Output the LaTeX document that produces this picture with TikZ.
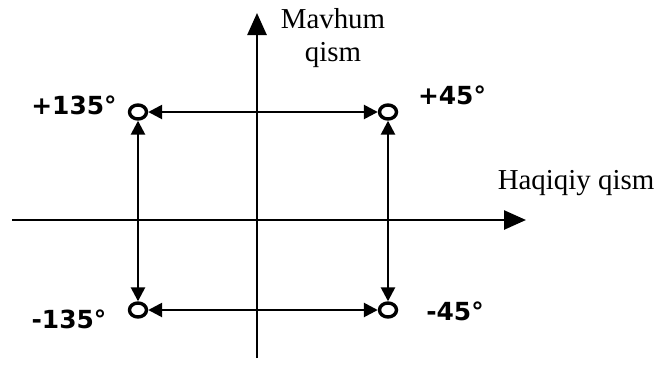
\documentclass[tikz,border=0pt]{standalone}
\usepackage{fontspec}
\setmainfont{Liberation Serif}
\newfontfamily\anglefont{DejaVu Sans}
\usetikzlibrary{arrows.meta,shapes.geometric}

\begin{document}
\begin{tikzpicture}[x=1bp, y=1bp, >={Triangle[length=14bp, width=14bp]},
  pt/.style={ellipse, draw, line width=3.4bp, minimum width=17bp, minimum height=14bp, inner sep=0pt},
  ang/.style={font=\anglefont\bfseries\fontsize{25}{28}\selectfont},
  axlbl/.style={font=\fontsize{29}{34}\selectfont, align=center},
  conn/.style={line width=2.6bp}]
  \useasboundingbox (0,0) rectangle (658,365);

  % axes
  \coordinate (xl) at (12,145);
  \coordinate (xr) at (526,145);
  \coordinate (yb) at (257,7);
  \coordinate (yt) at (257,352);
  \draw[conn, -{Triangle[length=22bp, width=19bp]}] (xl) -- (xr);
  \draw[conn, -{Triangle[length=22bp, width=19bp]}] (yb) -- (yt);
  \node[axlbl] (re) at (576,182) {Haqiqiy qism};
  \node[axlbl] (im) at (333,327) {Mavhum\\qism};

  % points
  \node[pt] (p135) at (138,253) {};
  \node[pt] (p45) at (388,253) {};
  \node[pt] (m135) at (138,55) {};
  \node[pt] (m45) at (388,55) {};

  \draw[conn, <->] (p135) -- (p45);
  \draw[conn, <->] (m135) -- (m45);
  \draw[conn, <->] (p135) -- (m135);
  \draw[conn, <->] (p45) -- (m45);

  \node[ang] (lp135) at (74,260) {+135°};
  \node[ang] (lp45) at (452,270) {+45°};
  \node[ang] (lm135) at (69,46) {-135°};
  \node[ang] (lm45) at (455,54) {-45°};
\end{tikzpicture}
\end{document}
